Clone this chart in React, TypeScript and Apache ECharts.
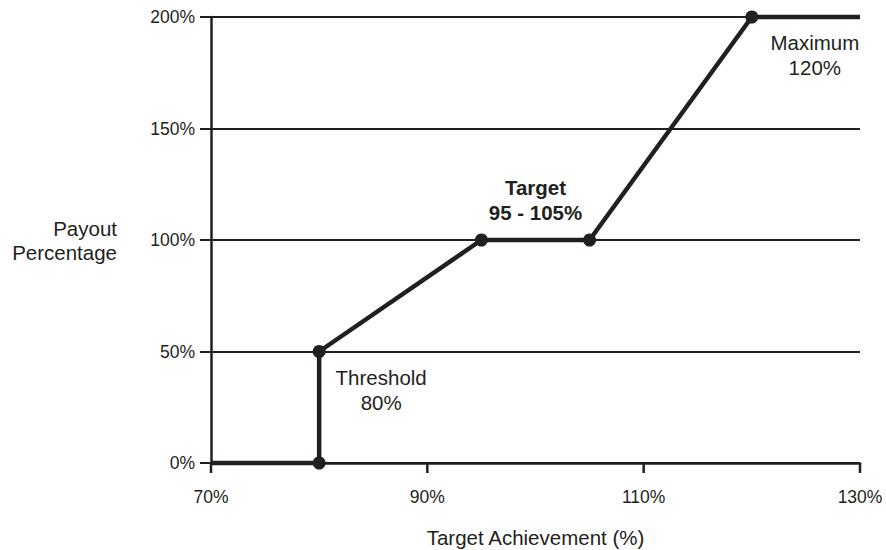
import React, { useEffect, useRef } from "react";
import * as echarts from "echarts";

const xTicks = [70, 90, 110, 130];
const payoutX = [70, 80, 80, 95, 105, 120, 130];
const payoutY = [0, 0, 50, 100, 100, 200, 200];
const markerShown = [false, true, true, true, true, true, false];

const annotations = [
  { text: "Threshold\n80%", at: [80, 50], dx: 62, dy: 38, bold: false },
  { text: "Target\n95 - 105%", at: [100, 100], dx: 0, dy: -40, bold: true },
  { text: "Maximum\n120%", at: [120, 200], dx: 63, dy: 38, bold: false },
];

const INK = "#231f20";
const FONT = "'Liberation Sans', Arial, Helvetica, sans-serif";

export default function App() {
  const ref = useRef<HTMLDivElement>(null);
  useEffect(() => {
    if (!ref.current) return;
    const chart = echarts.init(ref.current, undefined, { renderer: "svg" });
    const option: any = {
      animation: false,
      backgroundColor: "#ffffff",
      textStyle: { fontFamily: FONT, color: INK },
      grid: { left: 211, right: 26, top: 17, bottom: 87, containLabel: false, outerBoundsMode: "none" },
      xAxis: {
        type: "value",
        min: 70,
        max: 130,
        name: "Target Achievement (%)",
        nameLocation: "middle",
        nameGap: 64,
        nameTextStyle: { fontSize: 20.5, color: INK, fontFamily: FONT },
        axisLine: { show: true, lineStyle: { color: INK, width: 2.5 } },
        axisTick: { show: false },
        axisLabel: { customValues: xTicks, formatter: "{value}%", fontSize: 17.5, color: INK, margin: 25, fontFamily: FONT },
        splitLine: { show: false },
      },
      yAxis: {
        type: "value",
        min: 0,
        max: 200,
        interval: 50,
        name: "Payout\nPercentage",
        nameLocation: "middle",
        nameRotate: 0,
        nameGap: 94,
        nameTextStyle: { fontSize: 20.5, color: INK, align: "right", verticalAlign: "middle", lineHeight: 24, fontFamily: FONT },
        axisLine: { show: true, lineStyle: { color: INK, width: 2.5 } },
        axisTick: { show: true, length: 11, lineStyle: { color: INK, width: 2 } },
        axisLabel: { formatter: "{value}%", fontSize: 17.5, color: INK, margin: 16, fontFamily: FONT },
        splitLine: { show: true, lineStyle: { color: INK, width: 1.8 } },
      },
      series: [
        {
          type: "line",
          data: payoutX.map((x, i) => ({
            value: [x, payoutY[i]],
            symbol: markerShown[i] ? "circle" : "none",
          })),
          symbolSize: 13,
          showAllSymbol: true,
          lineStyle: { color: INK, width: 4.5 },
          itemStyle: { color: INK },
          clip: false,
          z: 5,
        },
      ],
    };
    chart.setOption(option);
    const graphics: any[] = annotations.map((a) => {
      const p = chart.convertToPixel({ gridIndex: 0 }, a.at) as number[];
      return {
        type: "text",
        x: p[0] + a.dx,
        y: p[1] + a.dy,
        z: 10,
        style: {
          text: a.text,
          fill: INK,
          fontSize: 20.5,
          fontWeight: a.bold ? "bold" : "normal",
          fontFamily: FONT,
          align: "center",
          verticalAlign: "middle",
          lineHeight: 25,
        },
      };
    });
    xTicks.forEach((v) => {
      const p = chart.convertToPixel({ gridIndex: 0 }, [v, 0]) as number[];
      graphics.push({
        type: "line",
        z: 3,
        shape: { x1: p[0], y1: p[1], x2: p[0], y2: p[1] + 10 },
        style: { stroke: INK, lineWidth: 2.5 },
      });
    });
    chart.setOption({ graphic: graphics });
    return () => chart.dispose();
  }, []);
  return (
    <div
      ref={ref}
      style={{ position: "fixed", left: 0, top: 0, width: 886, height: 550 }}
    />
  );
}
